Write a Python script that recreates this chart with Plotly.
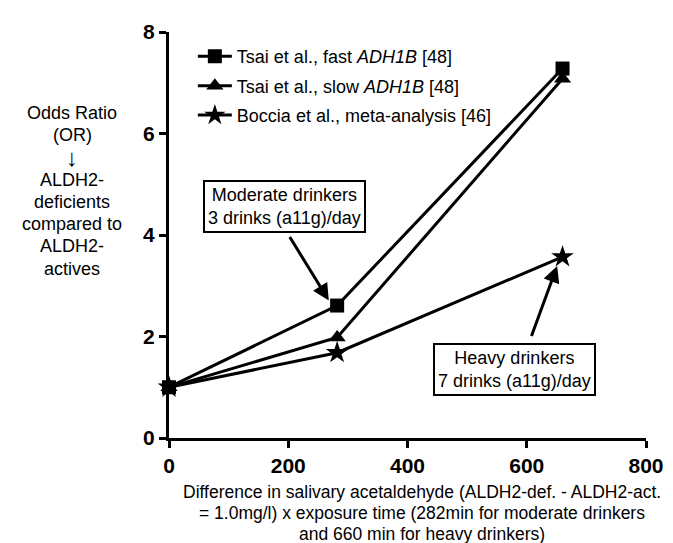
import plotly.graph_objects as go

x_vals = [0, 282, 660]
fast_adh1b = [1.0, 2.61, 7.28]
slow_adh1b = [1.0, 1.98, 7.08]
boccia = [1.0, 1.68, 3.57]

series_names = [
    "Tsai et al., fast <i>ADH1B</i> [48]",
    "Tsai et al., slow <i>ADH1B</i> [48]",
    "Boccia et al., meta-analysis [46]",
]
x_ticks = [0, 200, 400, 600, 800]
y_ticks = [0, 2, 4, 6, 8]

y_title_lines = ["Odds Ratio", "(OR)", "↓", "ALDH2-", "deficients",
                 "compared to", "ALDH2-", "actives"]
x_title_lines = [
    "Difference in salivary acetaldehyde (ALDH2-def. - ALDH2-act.",
    "= 1.0mg/l) x exposure time (282min for moderate drinkers",
    "and 660 min for heavy drinkers)",
]

FONT = "Liberation Sans, Arial, sans-serif"
W, H = 673, 543
L, R, T, B = 161, 35, 20, 113
pw, ph = W - L - R, H - T - B


def px2paper(px, py):
    return (px - L) / pw, (H - B - py) / ph


fig = go.Figure()
for i, (ys, name, sym, sz) in enumerate(zip(
        [fast_adh1b, slow_adh1b, boccia], series_names,
        ["square", "triangle-up", "star"], [14, 15, 17])):
    fig.add_trace(go.Scatter(
        x=x_vals, y=ys, name=name, mode="lines+markers",
        legendgroup=f"g{i}",
        line=dict(color="black", width=3),
        marker=dict(symbol=sym, size=sz, color="black"),
        cliponaxis=False,
    ))

annotations = [
    # arrows
    dict(x=268, y=2.71, ax=201, ay=3.99, xref="x", yref="y", axref="x", ayref="y",
         showarrow=True, arrowhead=2, arrowsize=1.1, arrowwidth=3, arrowcolor="black", text=""),
    dict(x=651, y=3.39, ax=607, ay=1.98, xref="x", yref="y", axref="x", ayref="y",
         showarrow=True, arrowhead=2, arrowsize=1.1, arrowwidth=3, arrowcolor="black", text=""),
    # boxes
    dict(x=193, y=4.56, xref="x", yref="y", showarrow=False,
         text="Moderate drinkers<br>3 drinks (a11g)/day",
         font=dict(family=FONT, size=18, color="black"),
         bordercolor="black", borderwidth=2, borderpad=3, bgcolor="white"),
    dict(x=580, y=1.35, xref="x", yref="y", showarrow=False,
         text="Heavy drinkers<br>7 drinks (a11g)/day",
         font=dict(family=FONT, size=18, color="black"),
         bordercolor="black", borderwidth=2, borderpad=3, bgcolor="white"),
]

for k, line in enumerate(y_title_lines):
    xp, yp = px2paper(64, 101.5 + 22.5 * k)
    size = 24 if line == "↓" else 18
    annotations.append(dict(x=xp, y=yp, xref="paper", yref="paper", showarrow=False,
                            xanchor="center", yanchor="middle", text=line,
                            font=dict(family=FONT, size=size, color="black")))

for k, line in enumerate(x_title_lines):
    xp, yp = px2paper(414, 485 + 21 * k)
    annotations.append(dict(x=xp, y=yp, xref="paper", yref="paper", showarrow=False,
                            xanchor="center", yanchor="middle", text=line,
                            font=dict(family=FONT, size=17.5, color="black")))

fig.update_layout(
    width=W, height=H,
    margin=dict(l=L, r=R, t=T, b=B),
    plot_bgcolor="white", paper_bgcolor="white",
    font=dict(family=FONT, color="black"),
    showlegend=True,
    legend=dict(x=0.05, y=0.985, xanchor="left", yanchor="top",
                font=dict(family=FONT, size=18, color="black"),
                bgcolor="rgba(0,0,0,0)", tracegroupgap=3, itemwidth=34),
    annotations=annotations,
    xaxis=dict(range=[0, 800], tickvals=x_ticks, showgrid=False, zeroline=False,
               showline=True, linecolor="black", linewidth=3,
               ticks="outside", ticklen=7, tickwidth=3, tickcolor="black",
               tickfont=dict(family=FONT, size=21, color="black", weight="bold")),
    yaxis=dict(range=[0, 8], tickvals=y_ticks, showgrid=False, zeroline=False,
               showline=True, linecolor="black", linewidth=3,
               ticks="outside", ticklen=7, tickwidth=3, tickcolor="black",
               tickfont=dict(family=FONT, size=21, color="black", weight="bold")),
)

fig.write_html("out.html")
